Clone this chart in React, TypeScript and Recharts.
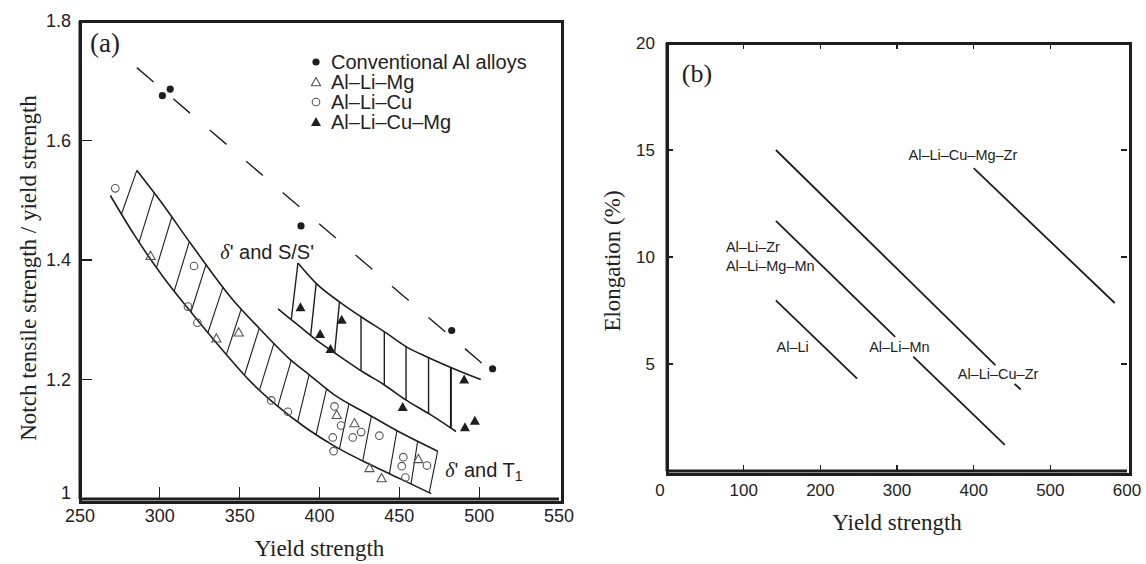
import React from "react";
import {
  ComposedChart, Line, Scatter, XAxis, YAxis, ReferenceLine, ReferenceDot, Legend, Label
} from "recharts";

const SANS = "'Liberation Sans', Arial, sans-serif";
const SERIF = "'Liberation Serif', 'Times New Roman', serif";
const INK = "#1e1e1e";

// ---------- (a) notch tensile / yield vs yield strength ----------
const xTicksA = [250, 300, 350, 400, 450, 500, 550];
const yTicksA = [1, 1.2, 1.4, 1.6, 1.8];

const conventional = [
  { x: 301.6, y: 1.675 }, { x: 306.5, y: 1.686 }, { x: 388.4, y: 1.457 },
  { x: 482.8, y: 1.282 }, { x: 508.4, y: 1.218 },
];
const alLiMg = [
  { x: 294.2, y: 1.407 }, { x: 335.4, y: 1.269 }, { x: 349.4, y: 1.279 }, { x: 410.8, y: 1.141 },
  { x: 421.9, y: 1.127 }, { x: 431.3, y: 1.052 }, { x: 438.9, y: 1.035 }, { x: 461.9, y: 1.067 },
];
const alLiCu = [
  { x: 272.1, y: 1.52 }, { x: 321.4, y: 1.39 }, { x: 317.6, y: 1.322 }, { x: 323.5, y: 1.295 },
  { x: 369.8, y: 1.165 }, { x: 380.2, y: 1.146 }, { x: 409.4, y: 1.155 }, { x: 413.5, y: 1.123 },
  { x: 408.3, y: 1.103 }, { x: 420.8, y: 1.103 }, { x: 426.1, y: 1.112 }, { x: 437.5, y: 1.106 },
  { x: 408.8, y: 1.08 }, { x: 452.5, y: 1.07 }, { x: 451.5, y: 1.055 }, { x: 453.8, y: 1.036 },
  { x: 467.3, y: 1.056 },
];
const alLiCuMg = [
  { x: 388.1, y: 1.321 }, { x: 400.4, y: 1.276 }, { x: 406.9, y: 1.251 }, { x: 413.9, y: 1.3 },
  { x: 452.1, y: 1.154 }, { x: 490.6, y: 1.2 }, { x: 491.1, y: 1.12 }, { x: 497.3, y: 1.131 },
];

const trendLine = [{ x: 285.6, y: 1.722 }, { x: 502.3, y: 1.226 }];

// band "δ' and T1"
const t1Lower = [
  { x: 269, y: 1.508 }, { x: 284, y: 1.442 }, { x: 302, y: 1.372 }, { x: 321, y: 1.308 },
  { x: 340, y: 1.247 }, { x: 357, y: 1.196 }, { x: 373, y: 1.157 }, { x: 392, y: 1.118 },
  { x: 411, y: 1.086 }, { x: 433, y: 1.056 }, { x: 452, y: 1.032 }, { x: 470, y: 1.009 },
];
const t1Upper = [
  { x: 285.6, y: 1.55 }, { x: 300, y: 1.5 }, { x: 320, y: 1.425 }, { x: 345.8, y: 1.333 },
  { x: 362.5, y: 1.285 }, { x: 381, y: 1.235 }, { x: 394, y: 1.207 }, { x: 410, y: 1.173 },
  { x: 429, y: 1.144 }, { x: 448, y: 1.115 }, { x: 474, y: 1.08 },
];
const t1Hatch = [
  [276, 1.477, 285.6, 1.55], [287, 1.43, 296.5, 1.512], [298, 1.388, 307.5, 1.472],
  [309, 1.348, 318.5, 1.431], [319.5, 1.313, 329, 1.393], [330.2, 1.279, 339.6, 1.355],
  [341.7, 1.242, 351, 1.318], [353.1, 1.208, 362.3, 1.286], [362.5, 1.183, 371.5, 1.261],
  [373.9, 1.155, 382.3, 1.232], [386.4, 1.13, 393.5, 1.208], [397.9, 1.108, 404.5, 1.185],
  [412.5, 1.084, 418.5, 1.16], [427.1, 1.064, 432.5, 1.139], [443.75, 1.042, 448.5, 1.115],
  [457.3, 1.025, 461.5, 1.097], [468.75, 1.011, 474, 1.08],
];

// band "δ' and S/S'"
const sLower = [
  { x: 374, y: 1.318 }, { x: 387, y: 1.29 }, { x: 400, y: 1.262 }, { x: 412, y: 1.24 },
  { x: 427, y: 1.213 }, { x: 440, y: 1.192 }, { x: 454, y: 1.166 }, { x: 469, y: 1.142 },
  { x: 485.5, y: 1.113 },
];
const sUpper = [
  { x: 386.5, y: 1.395 }, { x: 397.9, y: 1.361 }, { x: 412.5, y: 1.33 }, { x: 426, y: 1.305 },
  { x: 441.7, y: 1.278 }, { x: 454.2, y: 1.255 }, { x: 468.75, y: 1.236 }, { x: 483.3, y: 1.219 },
  { x: 501, y: 1.2 },
];
const sHatch = [
  [382.3, 1.3, 386.5, 1.395], [394.5, 1.274, 397.9, 1.361], [409.5, 1.245, 412.5, 1.33],
  [426, 1.215, 426, 1.305], [440.6, 1.191, 440.6, 1.28], [454.2, 1.166, 454.2, 1.255],
  [468.3, 1.143, 468.3, 1.237], [482.3, 1.119, 482.3, 1.22],
];

const legendNames = ["Conventional Al alloys", "Al–Li–Mg", "Al–Li–Cu", "Al–Li–Cu–Mg"];

// ---------- (b) elongation vs yield strength ----------
const xTicksB = [0, 100, 200, 300, 400, 500, 600];
const yTicksB = [5, 10, 15, 20];

const elongAlLi = [{ x: 142, y: 7.97 }, { x: 248, y: 4.32 }];
const elongZrMgMn = [{ x: 142, y: 11.69 }, { x: 297.6, y: 6.27 }];
const elongMn = [{ x: 321.2, y: 5.34 }, { x: 440.6, y: 1.22 }];
const elongCuZr = [{ x: 142, y: 15.0 }, { x: 428.3, y: 4.95 }];
const elongCuZrTail = [{ x: 453.3, y: 4.07 }, { x: 461.3, y: 3.81 }];
const elongCuMgZr = [{ x: 400, y: 14.15 }, { x: 584, y: 7.85 }];

const elongLabels = [
  { text: "Al–Li–Cu–Mg–Zr", x: 315, y: 14.75 },
  { text: "Al–Li–Zr", x: 76.9, y: 10.47 },
  { text: "Al–Li–Mg–Mn", x: 76.9, y: 9.56 },
  { text: "Al–Li", x: 142.9, y: 5.8 },
  { text: "Al–Li–Mn", x: 263.7, y: 5.8 },
  { text: "Al–Li–Cu–Zr", x: 379.2, y: 4.54 },
];

// chart boxes (page pixels)
const A = { left: 0, w: 580, h: 564, m: { top: 21, right: 21, bottom: 35, left: 0 }, yw: 80, xh: 30 };
const B = { left: 580, w: 566, h: 564, m: { top: 43, right: 19, bottom: 63, left: 0 }, yw: 87, xh: 30 };

// markers
const blackDot = (p: any) => <circle cx={p.cx} cy={p.cy} r={3.6} fill={INK} />;
const ring = (p: any) => <circle cx={p.cx} cy={p.cy} r={3.8} fill="none" stroke="#555" strokeWidth={1.1} />;
const triPts = (cx: number, cy: number, s: number) =>
  `${cx},${cy - s} ${cx + s},${cy + s * 0.8} ${cx - s},${cy + s * 0.8}`;
const openTri = (p: any) => <polygon points={triPts(p.cx, p.cy, 4.6)} fill="none" stroke="#555" strokeWidth={1.1} />;
const solidTri = (p: any) => <polygon points={triPts(p.cx, p.cy, 5)} fill={INK} />;
const legendShapes = [blackDot, openTri, ring, solidTri];

const LegendBox = () => (
  <div style={{ fontFamily: SANS, fontSize: 20, color: "#222", lineHeight: "20px" }}>
    {legendNames.map((n, i) => (
      <div key={n} style={{ display: "flex", alignItems: "center", height: 20 }}>
        <svg width={16} height={20} style={{ marginRight: 7 }}>
          {legendShapes[i]({ cx: 8, cy: 10 })}
        </svg>
        <span>{n}</span>
      </div>
    ))}
  </div>
);

const note = (key: string, x: number, y: number, body: React.ReactNode, size = 14.5, family = SANS) => (
  <ReferenceDot
    key={key}
    x={x}
    y={y}
    r={0}
    ifOverflow="visible"
    shape={(p: any) => (
      <text x={p.cx} y={p.cy} fontSize={size} fontFamily={family} fill="#222" dominantBaseline="central">
        {body}
      </text>
    )}
  />
);

const seg = (key: string, x1: number, y1: number, x2: number, y2: number, w = 1.2) => (
  <ReferenceLine key={key} segment={[{ x: x1, y: y1 }, { x: x2, y: y2 }]} stroke={INK} strokeWidth={w} ifOverflow="visible" />
);

// boxed frame with inward ticks, laid over a chart (html borders, so it does not depend on the svg)
function Frame({ box, xDom, yDom, xTicks, yTicks, tick, mirror }: any) {
  const x0 = box.left + box.m.left + box.yw;
  const x1 = box.left + box.w - box.m.right;
  const y0 = box.m.top;
  const y1 = box.h - box.m.bottom - box.xh;
  const sx = (v: number) => x0 + ((v - xDom[0]) / (xDom[1] - xDom[0])) * (x1 - x0);
  const sy = (v: number) => y1 - ((v - yDom[0]) / (yDom[1] - yDom[0])) * (y1 - y0);
  const mark = (key: string, left: number, top: number, width: number, height: number) => (
    <div key={key} style={{ position: "absolute", left, top, width, height, background: INK }} />
  );
  return (
    <>
      <div style={{
        position: "absolute", left: x0 - 1.5, top: y0 - 1.5, width: x1 - x0, height: y1 - y0,
        border: `3px solid ${INK}`, pointerEvents: "none",
      }} />
      {xTicks.map((v: number) => mark(`b${v}`, sx(v) - 0.6, y1 - tick, 1.2, tick))}
      {yTicks.map((v: number) => mark(`l${v}`, x0, sy(v) - 0.6, tick, 1.2))}
      {mirror && xTicks.map((v: number) => mark(`t${v}`, sx(v) - 0.6, y0, 1.2, tick))}
      {mirror && yTicks.map((v: number) => mark(`r${v}`, x1 - tick, sy(v) - 0.6, tick, 1.2))}
    </>
  );
}

const leftYTick = (p: any) => (
  <text x={p.x} y={p.y + (p.payload.value === 1 ? -6 : 0)} textAnchor="end" dominantBaseline="central"
    fontSize={18} fontFamily={SANS} fill="#222">
    {p.payload.value}
  </text>
);
const rightXTick = (p: any) => (
  <text x={p.x + (p.payload.value === 0 ? -7 : 0)} y={p.y} dy="0.71em" textAnchor="middle"
    fontSize={17} fontFamily={SANS} fill="#222">
    {p.payload.value}
  </text>
);

const axisFrame = { stroke: INK, strokeWidth: 3 };

export default function App() {
  const domXA = [xTicksA[0], xTicksA[xTicksA.length - 1]];
  const domYA = [yTicksA[0], yTicksA[yTicksA.length - 1]];
  const domXB = [xTicksB[0], xTicksB[xTicksB.length - 1]];
  const domYB = [0, yTicksB[yTicksB.length - 1]];
  return (
    <div style={{ position: "absolute", left: 0, top: 0, width: 1146, height: 564, background: "#fff" }}>
      {/* (a) */}
      <div style={{ position: "absolute", left: A.left, top: 0 }}>
        <ComposedChart width={A.w} height={A.h} margin={A.m}>
          <XAxis dataKey="x" type="number" domain={domXA} ticks={xTicksA} height={A.xh}
            axisLine={axisFrame} tickLine={false} tickSize={0} tickMargin={10}
            tick={{ fontSize: 18, fontFamily: SANS, fill: "#222" }}>
            <Label value="Yield strength" position="bottom" offset={11} fontSize={23} fontFamily={SERIF} fill="#222" />
          </XAxis>
          <YAxis dataKey="y" type="number" domain={domYA} ticks={yTicksA} width={A.yw}
            axisLine={axisFrame} tickLine={false} tickSize={0} tickMargin={9}
            tick={leftYTick}>
            <Label content={({ viewBox }: any) => (
              <text transform={`translate(${viewBox.x + 28},${viewBox.y + viewBox.height / 2 + 8}) rotate(-90)`}
                textAnchor="middle" dominantBaseline="central" fontSize={23} fontFamily={SERIF} fill="#222">
                Notch tensile strength / yield strength
              </text>
            )} />
          </YAxis>

          <Line data={trendLine} dataKey="y" type="linear" stroke={INK} strokeWidth={1.4}
            strokeDasharray="22 26" dot={false} activeDot={false} isAnimationActive={false} />
          <Line data={t1Lower} dataKey="y" type="monotone" stroke={INK} strokeWidth={1.6}
            dot={false} activeDot={false} isAnimationActive={false} />
          <Line data={t1Upper} dataKey="y" type="monotone" stroke={INK} strokeWidth={1.6}
            dot={false} activeDot={false} isAnimationActive={false} />
          <Line data={sLower} dataKey="y" type="monotone" stroke={INK} strokeWidth={1.6}
            dot={false} activeDot={false} isAnimationActive={false} />
          <Line data={sUpper} dataKey="y" type="monotone" stroke={INK} strokeWidth={1.6}
            dot={false} activeDot={false} isAnimationActive={false} />

          {t1Hatch.map((h, i) => seg(`t1-${i}`, h[0], h[1], h[2], h[3], 1.1))}
          {sHatch.map((h, i) => seg(`s-${i}`, h[0], h[1], h[2], h[3], i === sHatch.length - 1 ? 2 : 1.4))}

          <Scatter name={legendNames[0]} data={conventional} dataKey="y" shape={blackDot} isAnimationActive={false} />
          <Scatter name={legendNames[1]} data={alLiMg} dataKey="y" shape={openTri} isAnimationActive={false} />
          <Scatter name={legendNames[2]} data={alLiCu} dataKey="y" shape={ring} isAnimationActive={false} />
          <Scatter name={legendNames[3]} data={alLiCuMg} dataKey="y" shape={solidTri} isAnimationActive={false} />

          {note("a", 256.25, 1.763, "(a)", 27, SERIF)}
          {note("s", 337.9, 1.413, (
            <>
              <tspan fontFamily={SERIF} fontStyle="italic">δ</tspan>
              <tspan>' and S/S'</tspan>
            </>
          ), 20)}
          {note("t1", 478.75, 1.049, (
            <>
              <tspan fontFamily={SERIF} fontStyle="italic">δ</tspan>
              <tspan>' and T</tspan>
              <tspan fontSize={14} dy={6}>1</tspan>
            </>
          ), 20)}

          <Legend layout="vertical" align="center" verticalAlign="middle"
            wrapperStyle={{ left: 308, top: 52, width: 260 }} content={() => <LegendBox />} />
        </ComposedChart>
      </div>
      <Frame box={A} xDom={domXA} yDom={domYA} xTicks={xTicksA.slice(1, -1)} yTicks={yTicksA.slice(1, -1)} tick={12} />

      {/* (b) */}
      <div style={{ position: "absolute", left: B.left, top: 0 }}>
        <ComposedChart width={B.w} height={B.h} margin={B.m}>
          <XAxis dataKey="x" type="number" domain={domXB} ticks={xTicksB} height={B.xh}
            axisLine={axisFrame} tickLine={false} tickSize={0} tickMargin={13}
            tick={rightXTick}>
            <Label value="Yield strength" position="bottom" offset={13} fontSize={23} fontFamily={SERIF} fill="#222" />
          </XAxis>
          <YAxis dataKey="y" type="number" domain={domYB} ticks={yTicksB} width={B.yw}
            axisLine={axisFrame} tickLine={false} tickSize={0} tickMargin={12}
            tick={{ fontSize: 17, fontFamily: SANS, fill: "#222" }}>
            <Label content={({ viewBox }: any) => (
              <text transform={`translate(${viewBox.x + 32},${viewBox.y + viewBox.height / 2 + 4}) rotate(-90)`}
                textAnchor="middle" dominantBaseline="central" fontSize={23} fontFamily={SERIF} fill="#222">
                Elongation (%)
              </text>
            )} />
          </YAxis>

          {[elongAlLi, elongZrMgMn, elongMn, elongCuZr, elongCuZrTail, elongCuMgZr].map((d, i) => (
            <Line key={`el-${i}`} data={d} dataKey="y" type="linear" stroke={INK} strokeWidth={1.8}
              dot={false} activeDot={false} isAnimationActive={false} />
          ))}

          {note("b", 19.3, 18.56, "(b)", 26, SERIF)}
          {elongLabels.map((l) => note(l.text + l.y, l.x, l.y, l.text, 14.5))}
        </ComposedChart>
      </div>
      <Frame box={B} xDom={domXB} yDom={domYB} xTicks={xTicksB.slice(1, -1)} yTicks={yTicksB.slice(0, -1)} tick={6} mirror />
    </div>
  );
}
